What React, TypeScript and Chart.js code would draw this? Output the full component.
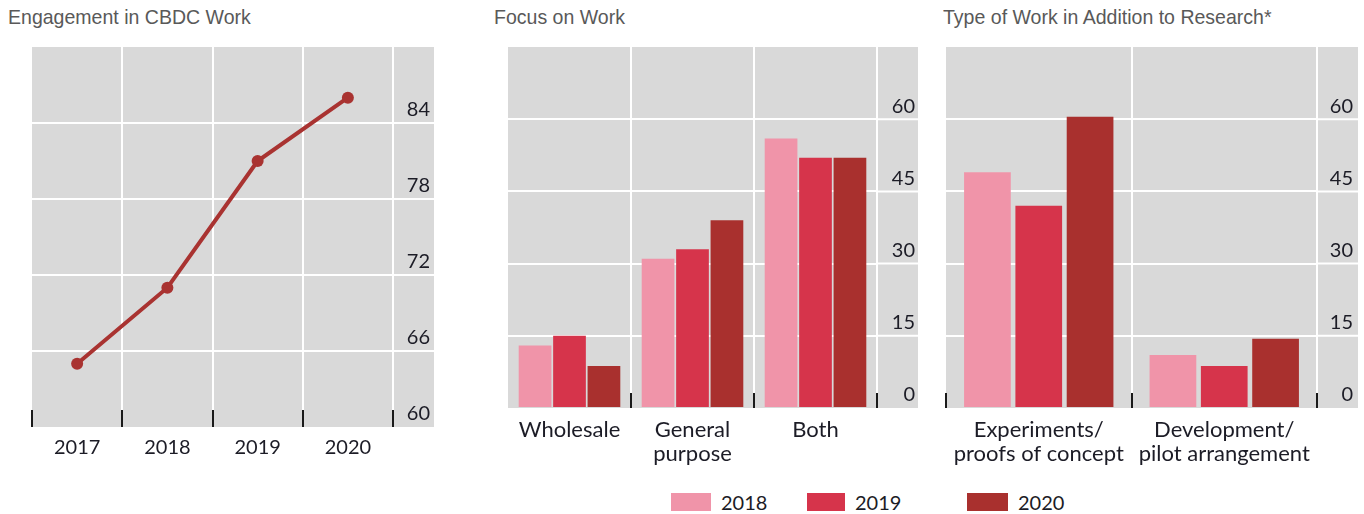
import React, { useEffect, useRef } from 'react';
import { Chart, registerables } from 'chart.js';

Chart.register(...registerables);

// ---------- data ----------
const engagementYears = ['2017', '2018', '2019', '2020'];
const engagementValues = [65, 71, 81, 86];
const engagementTicks = [60, 66, 72, 78, 84];

const focusCategories = ['Wholesale', ['General', 'purpose'], 'Both'];
const focus2018 = [13, 31, 56];
const focus2019 = [15, 33, 52];
const focus2020 = [8.7, 39, 52];

const typeCategories = [['Experiments/', 'proofs of concept'], ['Development/', 'pilot arrangement']];
const type2018 = [49, 11];
const type2019 = [42, 8.7];
const type2020 = [60.5, 14.4];

const barTicks = [0, 15, 30, 45, 60];
const legendYears = ['2018', '2019', '2020'];

const titles = ['Engagement in CBDC Work', 'Focus on Work', 'Type of Work in Addition to Research*'];

// ---------- style ----------
const GRAY = '#D9D9D9';
const C2018 = '#F094A9';
const C2019 = '#D6344B';
const C2020 = '#A9302E';
const LINE = '#A93331';
const TXT = '#1c1c26';
const TICK_FONT = { family: 'Lato', size: 20 };
const CAT_FONT = { family: 'Lato', size: 22, lineHeight: 24 / 22 };
const AXIS_BAND = 41; // width of the grey band holding the value labels

function bgPlugin(markLen: number, skipFirst: boolean) {
  return {
    id: 'panelBg',
    beforeDraw(chart: any) {
      const { ctx, chartArea: ca, scales } = chart;
      const ys = scales.y;
      const bandRight = ca.right + AXIS_BAND;
      ctx.save();
      ctx.fillStyle = GRAY;
      ctx.fillRect(ca.left, ca.top, bandRight - ca.left, ca.bottom - ca.top);
      ctx.strokeStyle = '#fff';
      ctx.lineWidth = 2;
      ys.ticks.forEach((t: any) => {
        if (t.value === ys.min) return;
        const py = ys.getPixelForValue(t.value);
        ctx.beginPath();
        ctx.moveTo(ca.right, py);
        ctx.lineTo(bandRight, py);
        ctx.stroke();
      });
      ctx.restore();
    },
    afterDraw(chart: any) {
      const { ctx, chartArea: ca, scales } = chart;
      const xs = scales.x;
      const n = xs.ticks.length;
      ctx.save();
      ctx.strokeStyle = '#1a1a1a';
      ctx.lineWidth = 2;
      for (let i = skipFirst ? 1 : 0; i <= n; i++) {
        const px = Math.round(xs.getPixelForValue(i - 0.5));
        ctx.beginPath();
        ctx.moveTo(px, ca.bottom - markLen);
        ctx.lineTo(px, ca.bottom);
        ctx.stroke();
      }
      ctx.restore();
    },
  };
}

function yScale(min: number, max: number, ticks: number[], axisWidth: number) {
  return {
    position: 'right',
    min,
    max,
    afterBuildTicks: (s: any) => {
      s.ticks = ticks.map((v) => ({ value: v }));
    },
    ticks: {
      font: TICK_FONT,
      color: TXT,
      padding: 0,
      crossAlign: 'far',
      labelOffset: -13,
    },
    grid: {
      color: (c: any) => (c.tick && c.tick.value === min ? 'rgba(0,0,0,0)' : '#ffffff'),
      lineWidth: 2,
      drawTicks: false,
    },
    border: { display: false },
    afterFit: (s: any) => {
      s.width = axisWidth;
      s.paddingTop = 0;
      s.paddingBottom = 0;
    },
  };
}

function xScale(height: number, padding: number, font: any) {
  return {
    type: 'category',
    offset: true,
    grid: {
      offset: true,
      color: (c: any) => (c.index === 0 ? 'rgba(0,0,0,0)' : '#ffffff'),
      lineWidth: 2,
      drawTicks: false,
    },
    border: { display: false },
    ticks: {
      font,
      color: TXT,
      padding,
      maxRotation: 0,
      autoSkip: false,
    },
    afterFit: (s: any) => {
      s.height = height;
      s.paddingLeft = 0;
      s.paddingRight = 0;
    },
  };
}

const baseOptions = {
  responsive: false,
  animation: false,
  events: [],
  plugins: { legend: { display: false }, tooltip: { enabled: false }, title: { display: false } },
};

function lineConfig(): any {
  // label right edge 4px inside the grey band
  const inset = 4;
  return {
    type: 'line',
    data: {
      labels: engagementYears,
      datasets: [
        {
          data: engagementValues,
          borderColor: LINE,
          backgroundColor: LINE,
          borderWidth: 4,
          pointRadius: 6,
          pointBackgroundColor: LINE,
          pointBorderWidth: 0,
          tension: 0,
        },
      ],
    },
    options: {
      ...baseOptions,
      layout: { padding: { left: 32, right: 26 + inset, top: 7, bottom: 13 } },
      scales: {
        x: xScale(40, 8.7, TICK_FONT),
        y: yScale(60, 90, engagementTicks, AXIS_BAND - inset),
      },
    },
    plugins: [bgPlugin(17, false)],
  };
}

function barConfig(labels: any[], d18: number[], d19: number[], d20: number[], catPct: number, barPct: number, pad: any, inset: number, skipFirst: boolean): any {
  const ds = (label: string, data: number[], color: string) => ({
    label,
    data,
    backgroundColor: color,
    borderWidth: 0,
    categoryPercentage: catPct,
    barPercentage: barPct,
  });
  return {
    type: 'bar',
    data: {
      labels,
      datasets: [ds(legendYears[0], d18, C2018), ds(legendYears[1], d19, C2019), ds(legendYears[2], d20, C2020)],
    },
    options: {
      ...baseOptions,
      layout: { padding: { ...pad, right: pad.right + inset } },
      scales: {
        x: xScale(60, 9.7, CAT_FONT),
        y: yScale(0, 75, barTicks, AXIS_BAND - inset),
      },
    },
    plugins: [bgPlugin(15, skipFirst)],
  };
}

function ChartCanvas({ config, left, top, width, height }: any) {
  const ref = useRef<HTMLCanvasElement>(null);
  useEffect(() => {
    const chart = new Chart(ref.current as HTMLCanvasElement, config());
    return () => chart.destroy();
  }, []);
  return (
    <canvas
      ref={ref}
      width={width}
      height={height}
      style={{ position: 'absolute', left, top, width, height, display: 'block' }}
    />
  );
}

const titleStyle: any = {
  position: 'absolute',
  top: 6,
  fontFamily: '"Liberation Sans", Arial, sans-serif',
  fontSize: 21,
  lineHeight: '21px',
  color: '#595959',
  whiteSpace: 'nowrap',
  transform: 'scaleX(0.93)',
  transformOrigin: 'left top',
};

export default function App() {
  const legendColors = [C2018, C2019, C2020];
  const legendBoxX = [671, 807, 967];
  const legendBoxW = [40, 38, 41];
  return (
    <div style={{ position: 'absolute', left: 0, top: 0, width: 1364, height: 514, background: '#fff', overflow: 'hidden' }}>
      <div style={{ ...titleStyle, left: 8 }}>{titles[0]}</div>
      <div style={{ ...titleStyle, left: 494 }}>{titles[1]}</div>
      <div style={{ ...titleStyle, left: 943 }}>{titles[2]}</div>

      <ChartCanvas config={lineConfig} left={0} top={40} width={460} height={440} />
      <ChartCanvas
        config={() =>
          barConfig(focusCategories, focus2018, focus2019, focus2020, 0.84, 0.95, { left: 28, right: 22, top: 7, bottom: 12 }, 3, true)
        }
        left={480}
        top={40}
        width={460}
        height={440}
      />
      <ChartCanvas
        config={() =>
          barConfig(typeCategories, type2018, type2019, type2020, 0.83, 0.91, { left: 16, right: 6, top: 7, bottom: 12 }, 5, false)
        }
        left={930}
        top={40}
        width={434}
        height={440}
      />

      {legendYears.map((y, i) => (
        <React.Fragment key={y}>
          <div
            style={{
              position: 'absolute',
              left: legendBoxX[i],
              top: 493,
              width: legendBoxW[i],
              height: 18,
              background: legendColors[i],
            }}
          />
          <div
            style={{
              position: 'absolute',
              left: legendBoxX[i] + legendBoxW[i] + 10,
              top: 490,
              fontFamily: 'Lato, sans-serif',
              fontSize: 20,
              lineHeight: '24px',
              color: TXT,
            }}
          >
            {y}
          </div>
        </React.Fragment>
      ))}
    </div>
  );
}
